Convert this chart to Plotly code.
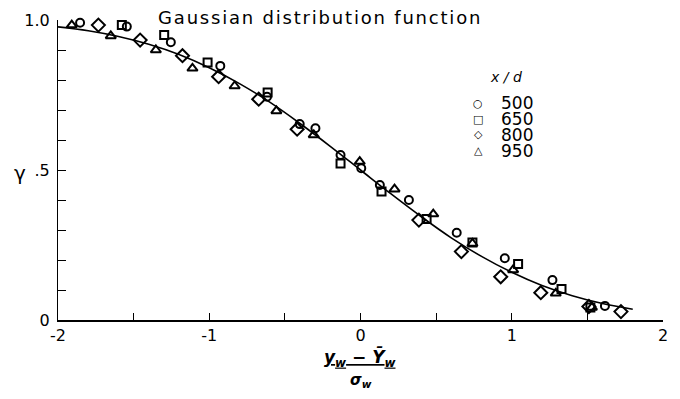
import plotly.graph_objects as go

# measured points, x = (y_w - Ybar_w)/sigma_w, y = gamma
x_500 = [-1.854, -1.545, -1.254, -0.927, -0.618, -0.402, -0.298, -0.132, 0.005, 0.128, 0.32, 0.636, 0.954, 1.269, 1.616]
y_500 = [0.991, 0.978, 0.926, 0.847, 0.744, 0.653, 0.639, 0.55, 0.506, 0.45, 0.40, 0.291, 0.206, 0.133, 0.047]

x_650 = [-1.578, -1.298, -1.011, -0.614, -0.132, 0.139, 0.437, 0.74, 1.042, 1.329, 1.52]
y_650 = [0.983, 0.95, 0.858, 0.758, 0.522, 0.428, 0.337, 0.258, 0.187, 0.103, 0.042]

x_800 = [-1.733, -1.457, -1.177, -0.938, -0.673, -0.419, 0.386, 0.667, 0.927, 1.192, 1.51, 1.722]
y_800 = [0.983, 0.933, 0.881, 0.811, 0.736, 0.636, 0.333, 0.228, 0.144, 0.091, 0.045, 0.028]

x_950 = [-1.909, -1.651, -1.353, -1.111, -0.832, -0.556, -0.309, -0.005, 0.225, 0.481, 0.74, 1.009, 1.291, 1.53]
y_950 = [0.983, 0.947, 0.90, 0.839, 0.78, 0.697, 0.617, 0.528, 0.436, 0.353, 0.255, 0.167, 0.089, 0.042]

# Gaussian distribution function curve (tabulated)
curve_x = [-2.0, -1.8, -1.6, -1.4, -1.2, -1.0, -0.8, -0.6, -0.4, -0.2, 0.0, 0.2, 0.4, 0.6, 0.8, 1.0, 1.2, 1.4, 1.6, 1.8]
curve_y = [0.977, 0.964, 0.945, 0.919, 0.885, 0.841, 0.788, 0.726, 0.655, 0.579, 0.500, 0.421, 0.345, 0.274, 0.212, 0.159, 0.115, 0.081, 0.055, 0.036]

x_ticks = [-2, -1.5, -1, -0.5, 0, 0.5, 1, 1.5, 2]
x_tick_labels = ["-2", "", "-1", "", "0", "", "1", "", "2"]
y_ticks = [0, 0.1, 0.2, 0.3, 0.4, 0.5, 0.6, 0.7, 0.8, 0.9, 1.0]
y_tick_labels = ["0", "", "", "", "", ".5", "", "", "", "", "1.0"]

series_names = ["500", "650", "800", "950"]
legend_glyphs = ["\u25cb", "\u25a1", "\u25c7", "\u25b3"]

FONT = "DejaVu Sans"

fig = go.Figure()

fig.add_trace(go.Scatter(
    x=curve_x, y=curve_y, mode="lines",
    line=dict(color="black", width=1.6, shape="spline"),
    showlegend=False, hoverinfo="skip",
))

styles = [
    (x_500, y_500, "circle-open", 8),
    (x_650, y_650, "square-open", 8),
    (x_800, y_800, "diamond-open", 10),
    (x_950, y_950, "triangle-up-open", 9),
]
for name, (xs, ys, sym, size) in zip(series_names, styles):
    fig.add_trace(go.Scatter(
        x=xs, y=ys, mode="markers", name=name,
        marker=dict(symbol=sym, size=size, color="black", line=dict(color="black", width=2)),
        cliponaxis=False, showlegend=False,
    ))

# page body adds an 8px offset, margins account for it
fig.update_layout(
    width=680, height=399,
    margin=dict(l=50, r=25, t=12, b=87),
    paper_bgcolor="white", plot_bgcolor="white",
    font=dict(family=FONT, color="black", size=16),
    title=dict(text='<span style="letter-spacing:1.8px">Gaussian distribution function</span>',
               x=0.459, xanchor="center", y=0.975, yanchor="middle",
               font=dict(family=FONT, size=18)),
    xaxis=dict(range=[-2, 2], tickvals=x_ticks, ticktext=x_tick_labels, automargin=False,
               ticks="inside", ticklen=7, tickwidth=1.2, tickcolor="black",
               showline=True, linecolor="black", linewidth=1.5,
               showgrid=False, zeroline=False, fixedrange=True),
    yaxis=dict(range=[0, 1], tickvals=y_ticks, ticktext=y_tick_labels, automargin=False,
               ticks="inside", ticklen=8, tickwidth=1.2, tickcolor="black",
               ticklabelstandoff=4,
               showline=True, linecolor="black", linewidth=1.2,
               showgrid=False, zeroline=False, fixedrange=True),
)

# y-axis symbol
fig.add_annotation(text="\u03b3", xref="paper", yref="paper", x=-0.076, y=0.49,
                   yanchor="middle", showarrow=False, font=dict(size=20, family=FONT))

# x-axis label as a fraction
fig.add_annotation(text="<b><i><u>y<sub>w</sub> \u2212 \u0232<sub>w</sub></u></i></b>", xref="x", yref="paper",
                   x=0, y=-0.125, yanchor="middle", showarrow=False, font=dict(size=17, family=FONT))
fig.add_annotation(text="<b><i>\u03c3<sub>w</sub></i></b>", xref="x", yref="paper",
                   x=0, y=-0.2, yanchor="middle", showarrow=False, font=dict(size=15, family=FONT))

# legend block
fig.add_annotation(text="<i>x / d</i>", xref="paper", yref="paper", x=0.77, y=0.81,
                   yanchor="middle", showarrow=False, font=dict(size=14, family=FONT))
for i, (glyph, name) in enumerate(zip(legend_glyphs, series_names)):
    ypos = 0.723 - i * 0.053
    fig.add_annotation(text=glyph, xref="paper", yref="paper", x=0.705, y=ypos,
                       yanchor="middle", showarrow=False, font=dict(size=11, family=FONT))
    fig.add_annotation(text=name, xref="paper", yref="paper", x=0.729, y=ypos,
                       xanchor="left", yanchor="middle", showarrow=False,
                       font=dict(size=17, family=FONT))

fig.write_html("out.html")
